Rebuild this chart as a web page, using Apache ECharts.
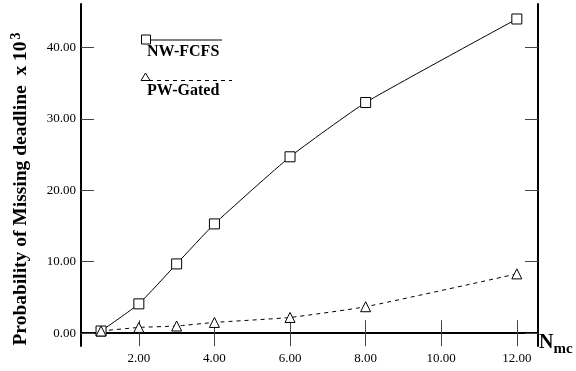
<!DOCTYPE html>
<html>
<head>
<meta charset="utf-8">
<script src="https://cdn.jsdelivr.net/npm/echarts@6/dist/echarts.min.js"></script>
<style>
  html, body { margin: 0; padding: 0; background: #fff; }
  #chart { width: 576px; height: 371px; }
</style>
</head>
<body>
<div id="chart"></div>
<script>
// N_mc values
var nmc = [1, 2, 3, 4, 6, 8, 12];
// probability of missing deadline (x 10^3)
var nwFcfs = [0.3, 4.1, 9.7, 15.3, 24.7, 32.3, 44.0];
var pwGated = [0.3, 0.8, 1.0, 1.5, 2.2, 3.7, 8.3];
var xTicks = [2, 4, 6, 8, 10, 12];
var yTicks = [0, 10, 20, 30, 40];

var serif = 'Liberation Serif, Times New Roman, serif';

function pairs(xs, ys) {
    return xs.map(function (x, i) { return [x, ys[i]]; });
}

function axisBase(extra) {
    var base = {
        type: 'value',
        axisLine: { show: true, lineStyle: { color: '#000', width: 2 } },
        splitLine: { show: false },
        axisLabel: { show: false }
    };
    return Object.assign(base, extra);
}

function ticks(vals) {
    return { show: true, inside: true, length: 13, customValues: vals, lineStyle: { color: '#444', width: 1 } };
}

var chart = echarts.init(document.getElementById('chart'));

chart.setOption({
    animation: false,
    grid: { left: 81, right: 38, top: 4, bottom: 25 },
    xAxis: [
        axisBase({
            position: 'bottom', min: 0.47, max: 12.56,
            axisTick: ticks(xTicks),
            axisLabel: {
                show: true, customValues: xTicks, margin: 6,
                fontFamily: serif, fontSize: 13, color: '#000',
                formatter: function (v) { return v.toFixed(2); }
            }
        }),
        axisBase({ position: 'top', min: 0.47, max: 12.56, axisTick: ticks(xTicks) })
    ],
    yAxis: [
        axisBase({
            position: 'left', min: -1.8, max: 46.1,
            axisTick: ticks(yTicks),
            axisLabel: {
                show: true, customValues: yTicks, margin: 5,
                fontFamily: serif, fontSize: 13, color: '#000',
                formatter: function (v) { return v.toFixed(2); }
            }
        }),
        axisBase({ position: 'right', min: -1.8, max: 46.1, axisTick: ticks(yTicks) })
    ],
    series: [
        {
            name: 'NW-FCFS', type: 'line', smooth: 0.15,
            data: pairs(nmc, nwFcfs),
            symbol: 'rect', symbolSize: 10,
            itemStyle: { color: '#fff', borderColor: '#000', borderWidth: 1 },
            lineStyle: { color: '#000', width: 1 }
        },
        {
            name: 'PW-Gated', type: 'line', smooth: 0.15,
            data: pairs(nmc, pwGated),
            symbol: 'triangle', symbolSize: 10,
            itemStyle: { color: '#fff', borderColor: '#000', borderWidth: 1 },
            lineStyle: { color: '#000', width: 1, type: [4, 4] }
        }
    ],
    graphic: [
        // y-axis title
        {
            type: 'text', x: 21, y: 189, rotation: Math.PI / 2,
            style: {
                text: '{t|Probability of Missing deadline  x 10}{s|3}',
                align: 'center', verticalAlign: 'middle',
                rich: {
                    t: { fontFamily: serif, fontWeight: 'bold', fontSize: 19.5, fill: '#000' },
                    s: { fontFamily: serif, fontWeight: 'bold', fontSize: 14, fill: '#000', padding: [0, 0, 10, 2] }
                }
            }
        },
        // legend
        { type: 'line', shape: { x1: 146, y1: 40, x2: 222, y2: 40 }, style: { stroke: '#000', lineWidth: 1 } },
        { type: 'rect', shape: { x: 141.5, y: 35, width: 9, height: 9 }, style: { fill: '#fff', stroke: '#000', lineWidth: 1 } },
        { type: 'text', left: 147, top: 44, style: { text: 'NW-FCFS', fontFamily: serif, fontWeight: 'bold', fontSize: 16, fill: '#000' } },
        { type: 'line', shape: { x1: 149, y1: 80.5, x2: 232, y2: 80.5 }, style: { stroke: '#000', lineWidth: 1, lineDash: [4, 4] } },
        { type: 'polygon', shape: { points: [[145.5, 73], [141, 80.5], [150, 80.5]] }, style: { fill: '#fff', stroke: '#000', lineWidth: 1 } },
        { type: 'text', left: 147, top: 83, style: { text: 'PW-Gated', fontFamily: serif, fontWeight: 'bold', fontSize: 16, fill: '#000' } },
        // x-axis name
        {
            type: 'text', left: 539, top: 333,
            style: {
                text: '{n|N}{m|mc}',
                rich: {
                    n: { fontFamily: serif, fontWeight: 'bold', fontSize: 20, fill: '#000' },
                    m: { fontFamily: serif, fontWeight: 'bold', fontSize: 15, fill: '#000', padding: [12, 0, 0, 0] }
                }
            }
        }
    ]
});
</script>
</body>
</html>
